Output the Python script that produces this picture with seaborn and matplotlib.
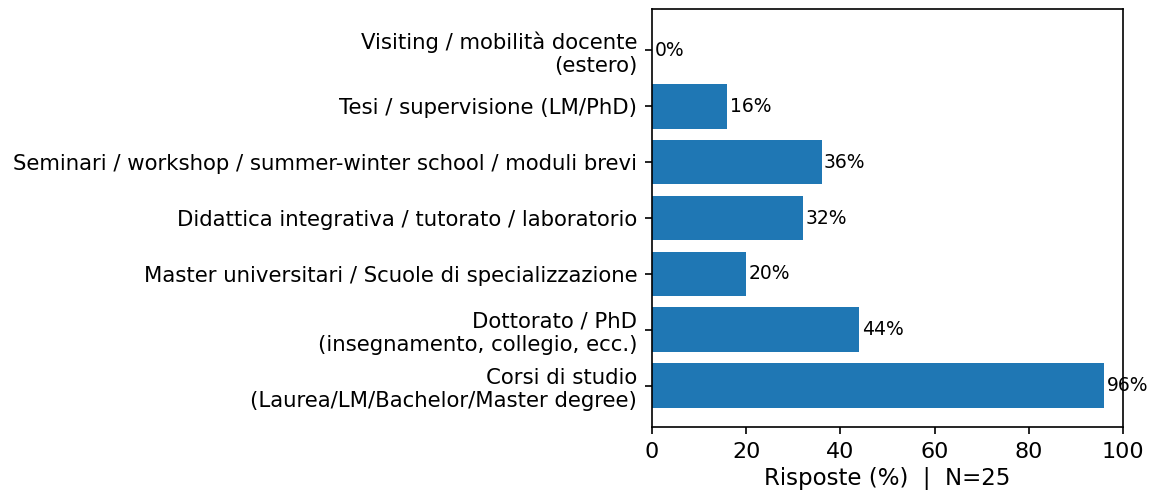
import pandas as pd
import seaborn as sns
import matplotlib.pyplot as plt

categories = [
    "Visiting / mobilità docente\n(estero)",
    "Tesi / supervisione (LM/PhD)",
    "Seminari / workshop / summer-winter school / moduli brevi",
    "Didattica integrativa / tutorato / laboratorio",
    "Master universitari / Scuole di specializzazione",
    "Dottorato / PhD\n(insegnamento, collegio, ecc.)",
    "Corsi di studio\n(Laurea/LM/Bachelor/Master degree)",
]
percent = [0, 16, 36, 32, 20, 44, 96]
n_resp = 25

df = pd.DataFrame({"ambito": categories, "pct": percent})

fig = plt.figure(figsize=(11.66, 4.93), dpi=100)
ax = fig.add_axes([0.5592, 0.1339, 0.4039, 0.8478])

sns.barplot(data=df, x="pct", y="ambito", orient="h", color="#1f77b4",
            saturation=1, width=0.8, ax=ax)

# matplotlib-like margins instead of seaborn's category padding
n = len(categories)
ax.set_ylim(n - 1 + 0.4 + 0.34, -0.4 - 0.34)
ax.set_xlim(0, 100)

for i, v in enumerate(percent):
    ax.text(v + 0.5, i, f"{v}%", va="center", ha="left", fontsize=13.5)

ax.set_xlabel(f"Risposte (%)  |  N={n_resp}", fontsize=16.5)
ax.set_ylabel("")
ax.tick_params(axis="both", length=5.3, width=1.2, pad=5.3)
ax.tick_params(axis="x", labelsize=16)
ax.tick_params(axis="y", labelsize=15.3)
for sp in ax.spines.values():
    sp.set_linewidth(1.2)

fig.savefig("out.png", dpi=100)
